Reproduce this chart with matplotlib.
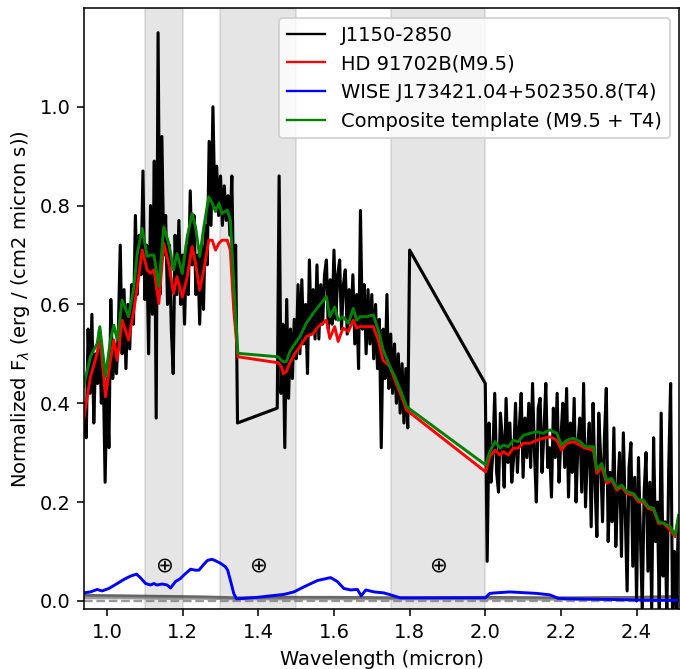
"""
Compare J1150-2850 against a binary template (M9.5 + T4).
"""

import matplotlib
matplotlib.use("Agg")
import matplotlib.pyplot as plt
from matplotlib.lines import Line2D
import numpy

# Observed spectrum, read in three bands at 0.005 micron steps
J_START, J_STOP = 0.940, 1.345
j_flux = [0.40, 0.33, 0.55, 0.42, 0.58, 0.36, 0.50, 0.44, 0.55, 0.40,
          0.47, 0.24, 0.45, 0.31, 0.61, 0.45, 0.52, 0.46, 0.55, 0.72,
          0.50, 0.63, 0.47, 0.60, 0.51, 0.64, 0.56, 0.78, 0.62, 0.74,
          0.66, 0.87, 0.61, 0.72, 0.50, 0.80, 0.58, 0.89, 0.37, 1.15,
          0.62, 0.94, 0.70, 0.78, 0.60, 0.72, 0.55, 0.46, 0.74, 0.62,
          0.77, 0.60, 0.70, 0.56, 0.72, 0.62, 0.83, 0.68, 0.78, 0.62,
          0.70, 0.56, 0.72, 0.59, 0.76, 0.68, 0.93, 0.76, 1.00, 0.80,
          0.88, 0.78, 0.86, 0.76, 0.84, 0.77, 0.82, 0.74, 0.86, 0.62,
          0.72, 0.36]

H_START, H_STOP = 1.450, 1.800
h_flux = [0.39, 0.86, 0.42, 0.56, 0.31, 0.61, 0.41, 0.55, 0.45, 0.57,
          0.49, 0.64, 0.50, 0.65, 0.52, 0.60, 0.46, 0.69, 0.54, 0.63,
          0.53, 0.68, 0.53, 0.64, 0.56, 0.66, 0.69, 0.55, 0.65, 0.56,
          0.71, 0.57, 0.66, 0.69, 0.55, 0.64, 0.67, 0.54, 0.63, 0.56,
          0.66, 0.52, 0.62, 0.47, 0.79, 0.55, 0.64, 0.50, 0.63, 0.52,
          0.62, 0.49, 0.60, 0.47, 0.57, 0.31, 0.55, 0.45, 0.62, 0.43,
          0.54, 0.42, 0.52, 0.40, 0.50, 0.38, 0.48, 0.36, 0.47, 0.35,
          0.71]

K_START, K_STOP = 2.000, 2.510
k_flux = [0.44, 0.08, 0.36, 0.24, 0.30, 0.42, 0.26, 0.22, 0.38, 0.33,
          0.23, 0.41, 0.28, 0.36, 0.24, 0.29, 0.40, 0.26, 0.35, 0.42,
          0.25, 0.37, 0.29, 0.40, 0.27, 0.44, 0.30, 0.20, 0.39, 0.41,
          0.26, 0.34, 0.44, 0.27, 0.31, 0.21, 0.39, 0.29, 0.42, 0.24,
          0.33, 0.40, 0.27, 0.43, 0.21, 0.36, 0.26, 0.41, 0.20, 0.32,
          0.37, 0.22, 0.44, 0.19, 0.30, 0.36, 0.15, 0.40, 0.24, 0.13,
          0.38, 0.29, 0.16, 0.33, 0.43, 0.12, 0.26, 0.16, 0.35, 0.11,
          0.22, 0.30, 0.09, 0.34, 0.18, 0.02, 0.27, 0.32, 0.07, 0.25,
          0.00, 0.29, 0.14, -0.02, 0.22, 0.30, 0.06, 0.24, -0.02, 0.33,
          0.12, 0.20, -0.02, 0.38, 0.05, 0.16, -0.03, 0.27, 0.44, -0.03,
          0.10, -0.03, 0.15]

# Templates (primary, composite) on a shared grid
tmpl_wave = [0.938, 0.956, 0.974, 0.981, 0.996, 1.009, 1.018, 1.027, 1.040, 1.057,
             1.071, 1.080, 1.093, 1.106, 1.115, 1.124, 1.137, 1.150, 1.163, 1.176,
             1.185, 1.199, 1.212, 1.225, 1.234, 1.245, 1.256, 1.269, 1.278, 1.287,
             1.296, 1.304, 1.318, 1.326, 1.335, 1.346,
             1.452, 1.461, 1.466, 1.474, 1.483, 1.497, 1.510, 1.527, 1.545, 1.558,
             1.580, 1.589, 1.602, 1.611, 1.624, 1.638, 1.651, 1.660, 1.668, 1.686,
             1.704, 1.717, 1.730, 1.748, 1.761, 1.779, 1.792,
             2.001, 2.012, 2.026, 2.039, 2.048, 2.061, 2.074, 2.087, 2.101, 2.118,
             2.136, 2.153, 2.171, 2.189, 2.202, 2.215, 2.233, 2.251, 2.264, 2.286,
             2.295, 2.308, 2.321, 2.334, 2.348, 2.361, 2.374, 2.392, 2.405, 2.418,
             2.431, 2.445, 2.458, 2.471, 2.489, 2.502, 2.511]
primary_flux = [0.366, 0.453, 0.501, 0.538, 0.413, 0.487, 0.528, 0.487, 0.568, 0.528,
                0.589, 0.636, 0.710, 0.670, 0.663, 0.670, 0.602, 0.724, 0.683, 0.622,
                0.656, 0.615, 0.656, 0.717, 0.683, 0.629, 0.670, 0.730, 0.730, 0.710,
                0.724, 0.730, 0.730, 0.710, 0.589, 0.494,
                0.482, 0.474, 0.460, 0.464, 0.481, 0.501, 0.514, 0.535, 0.541, 0.555,
                0.568, 0.531, 0.555, 0.525, 0.552, 0.545, 0.568, 0.552, 0.555, 0.555,
                0.555, 0.528, 0.487, 0.474, 0.447, 0.413, 0.386,
                0.261, 0.292, 0.305, 0.295, 0.302, 0.295, 0.309, 0.309, 0.319, 0.319,
                0.325, 0.329, 0.332, 0.325, 0.305, 0.319, 0.322, 0.315, 0.309, 0.305,
                0.258, 0.271, 0.238, 0.244, 0.224, 0.231, 0.217, 0.214, 0.200, 0.200,
                0.187, 0.184, 0.157, 0.157, 0.143, 0.130, 0.170]
composite_flux = [0.433, 0.494, 0.521, 0.555, 0.454, 0.528, 0.558, 0.528, 0.609, 0.575,
                  0.636, 0.703, 0.754, 0.697, 0.700, 0.700, 0.636, 0.757, 0.724, 0.670,
                  0.703, 0.663, 0.737, 0.784, 0.757, 0.697, 0.757, 0.818, 0.805, 0.788,
                  0.805, 0.784, 0.791, 0.771, 0.643, 0.501,
                  0.494, 0.487, 0.484, 0.484, 0.504, 0.521, 0.535, 0.562, 0.582, 0.595,
                  0.616, 0.575, 0.595, 0.568, 0.575, 0.562, 0.592, 0.568, 0.575, 0.575,
                  0.579, 0.548, 0.508, 0.474, 0.454, 0.420, 0.393,
                  0.275, 0.302, 0.322, 0.309, 0.315, 0.312, 0.325, 0.322, 0.335, 0.339,
                  0.342, 0.339, 0.346, 0.339, 0.315, 0.325, 0.329, 0.322, 0.312, 0.312,
                  0.265, 0.278, 0.244, 0.248, 0.228, 0.234, 0.221, 0.217, 0.204, 0.204,
                  0.190, 0.187, 0.160, 0.157, 0.150, 0.133, 0.173]

# Secondary (T4) template, scaled
secondary_wave = [0.938, 0.956, 0.974, 0.987, 1.005, 1.027, 1.044, 1.062, 1.078, 1.088,
                  1.102, 1.115, 1.124, 1.132, 1.146, 1.159, 1.168, 1.181, 1.194, 1.203,
                  1.221, 1.234, 1.243, 1.256, 1.266, 1.278, 1.287, 1.300, 1.313, 1.319,
                  1.326, 1.335, 1.342, 1.362, 1.397, 1.432, 1.468, 1.494, 1.520, 1.556,
                  1.591, 1.609, 1.626, 1.644, 1.662, 1.672, 1.684, 1.706, 1.732, 1.750,
                  1.775, 2.000, 2.012, 2.026, 2.065, 2.136, 2.171, 2.193, 2.224, 2.312,
                  2.445, 2.515]
secondary_flux = [0.016, 0.018, 0.023, 0.020, 0.025, 0.035, 0.043, 0.050, 0.054, 0.047,
                  0.035, 0.032, 0.035, 0.032, 0.034, 0.032, 0.026, 0.039, 0.045, 0.052,
                  0.064, 0.062, 0.062, 0.074, 0.082, 0.084, 0.081, 0.076, 0.069, 0.062,
                  0.042, 0.015, 0.004, 0.005, 0.007, 0.010, 0.013, 0.018, 0.028, 0.041,
                  0.047, 0.039, 0.025, 0.022, 0.023, 0.010, 0.022, 0.018, 0.016, 0.012,
                  0.006, 0.006, 0.015, 0.016, 0.018, 0.015, 0.012, 0.005, 0.004, 0.003,
                  0.001, 0.001]

# Noise spectra near zero
noise_wave = [0.94, 1.05, 1.15, 1.25, 1.345, 1.45, 1.6, 1.8, 2.0, 2.2, 2.4, 2.51]
noise_obs = [0.011, 0.010, 0.009, 0.008, 0.006, 0.007, 0.007, 0.006, 0.007, 0.006, 0.007, 0.009]
noise_tmpl = [0.006, 0.006, 0.005, 0.005, 0.004, 0.004, 0.004, 0.004, 0.004, 0.003, 0.003, 0.003]

TELLURIC_BANDS = [(1.10, 1.20), (1.30, 1.50), (1.75, 2.00)]
TELLURIC_MARKS = [1.15, 1.40, 1.875]

LABELS = ["J1150-2850", "HD 91702B(M9.5)", "WISE J173421.04+502350.8(T4)",
          "Composite template (M9.5 + T4)"]


def band(start, stop, flux):
  return numpy.linspace(start, stop, len(flux)), numpy.array(flux)


def main():
  fig, ax = plt.subplots(figsize=(680 / 140, 669 / 140), dpi=140)
  fig.subplots_adjust(left=0.124, right=0.999, bottom=0.089, top=0.988)

  for lo, hi in TELLURIC_BANDS:
    ax.axvspan(lo, hi, color="gray", alpha=0.2, zorder=0)
  for x in TELLURIC_MARKS:
    ax.text(x, 0.07, r"$\oplus$", ha="center", va="center", fontsize=11)

  waves, fluxes = [], []
  for start, stop, flux in [(J_START, J_STOP, j_flux), (H_START, H_STOP, h_flux),
                            (K_START, K_STOP, k_flux)]:
    w, f = band(start, stop, flux)
    waves.append(w)
    fluxes.append(f)
  obs_wave = numpy.concatenate(waves)
  obs_flux = numpy.concatenate(fluxes)

  ax.plot(noise_wave, noise_obs, color="0.25", lw=1.5, alpha=0.8)
  ax.plot(noise_wave, noise_tmpl, color="0.45", lw=1.5, alpha=0.7)
  ax.axhline(0, color="0.5", ls="--", lw=1.2, alpha=0.8)

  ax.plot(obs_wave, obs_flux, color="black", lw=1.6)
  ax.plot(tmpl_wave, primary_flux, color="red", lw=1.5)
  ax.plot(secondary_wave, secondary_flux, color="blue", lw=1.5)
  ax.plot(tmpl_wave, composite_flux, color="green", lw=1.5)

  handles = [Line2D([], [], color=c, lw=1.2) for c in ["black", "red", "blue", "green"]]
  ax.legend(handles, LABELS, loc="upper right")

  ax.set_xlim(0.94, 2.513)
  ax.set_ylim(-0.0175, 1.2)
  ax.set_xticks(numpy.arange(1.0, 2.41, 0.2))
  ax.set_yticks(numpy.arange(0.0, 1.01, 0.2))
  ax.set_xlabel("Wavelength (micron)")
  ax.set_ylabel(r"Normalized F$_\lambda$ (erg / (cm2 micron s))")

  fig.savefig("out.png", dpi=140)


if __name__ == "__main__":
  main()
